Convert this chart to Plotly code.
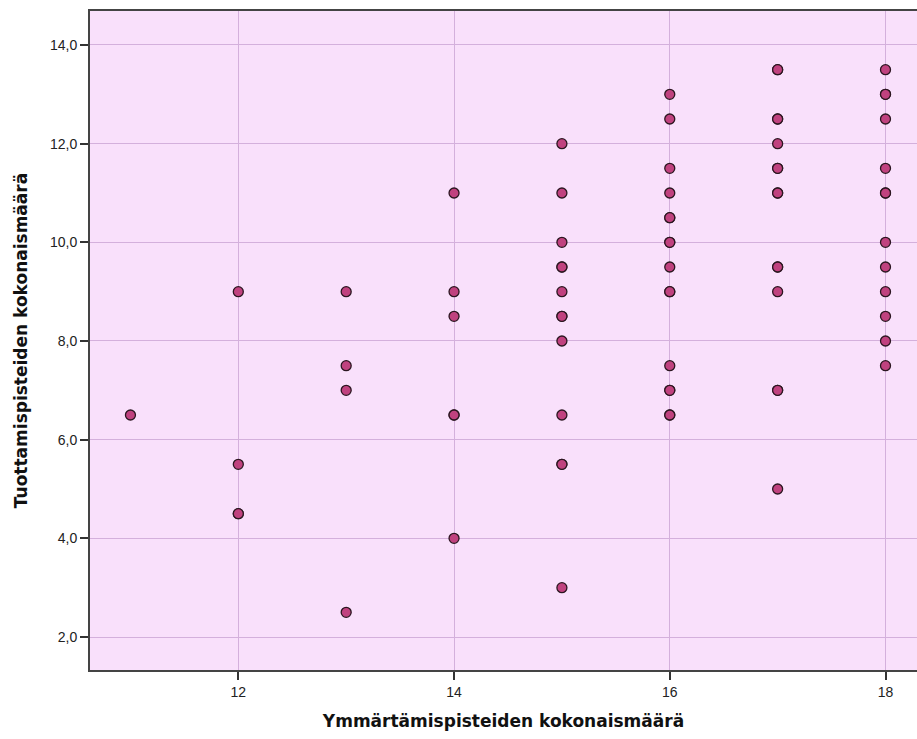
import plotly.graph_objects as go

# Total comprehension score (x) vs total production score (y); repeated pairs listed twice
x_vals = [11,
          12, 12, 12, 12,
          13, 13, 13, 13,
          14, 14, 14, 14, 14, 14,
          15, 15, 15, 15, 15, 15, 15, 15, 15, 15, 15, 15, 15,
          16, 16, 16, 16, 16, 16, 16, 16, 16, 16, 16, 16, 16, 16, 16, 16,
          17, 17, 17, 17, 17, 17, 17, 17, 17, 17, 17, 17, 17, 17, 17,
          18, 18, 18, 18, 18, 18, 18, 18, 18, 18, 18, 18, 18]
y_vals = [6.5,
          9.0, 5.5, 4.5, 4.5,
          9.0, 7.5, 7.0, 2.5,
          11.0, 9.0, 8.5, 6.5, 6.5, 4.0,
          12.0, 11.0, 10.0, 9.5, 9.5, 9.0, 8.5, 8.5, 8.0, 6.5, 5.5, 5.5, 3.0,
          13.0, 12.5, 11.5, 11.0, 10.5, 10.5, 10.0, 10.0, 9.5, 9.0, 9.0, 7.5, 7.0, 7.0, 6.5, 6.5,
          13.5, 13.5, 12.5, 12.5, 12.0, 11.5, 11.5, 11.0, 11.0, 9.5, 9.5, 9.0, 7.0, 7.0, 5.0,
          13.5, 13.0, 13.0, 12.5, 11.5, 11.0, 11.0, 10.0, 9.5, 9.0, 8.5, 8.0, 7.5]

x_ticks = [12, 14, 16, 18]
y_ticks = [2, 4, 6, 8, 10, 12, 14]
y_tick_text = ["2,0", "4,0", "6,0", "8,0", "10,0", "12,0", "14,0"]

x_title = "Ymmärtämispisteiden kokonaismäärä"
y_title = "Tuottamispisteiden kokonaismäärä"

fig = go.Figure(go.Scatter(
    x=x_vals, y=y_vals, mode="markers",
    marker=dict(size=10, color="#c0427f",
                line=dict(color="#2b1620", width=1.3)),
    hoverinfo="x+y",
))

axis_font = dict(family="Liberation Sans, Arial, sans-serif", size=14, color="#222222")
title_font = dict(family="DejaVu Sans, Verdana, sans-serif", size=17, color="#111111")

fig.update_layout(
    width=917, height=739,
    margin=dict(l=90, r=0, t=11, b=69),
    paper_bgcolor="white",
    plot_bgcolor="#f9e0fb",
    showlegend=False,
    xaxis=dict(
        range=[10.625, 18.292],
        tickvals=x_ticks, ticktext=[str(v) for v in x_ticks],
        showgrid=True, gridcolor="#d4b0dc", gridwidth=1.3,
        zeroline=False,
        showline=True, linecolor="#444444", linewidth=2, mirror=True,
        ticks="outside", ticklen=8, tickcolor="#333333", tickwidth=1.5,
        tickfont=axis_font,
        title=dict(text="<b>" + x_title + "</b>", font=title_font, standoff=16),
    ),
    yaxis=dict(
        range=[1.331, 14.689],
        tickvals=y_ticks, ticktext=y_tick_text,
        showgrid=True, gridcolor="#d4b0dc", gridwidth=1.3,
        zeroline=False,
        showline=True, linecolor="#444444", linewidth=2, mirror=False,
        ticks="outside", ticklen=8, tickcolor="#333333", tickwidth=1.5,
        tickfont=axis_font,
        title=dict(text="<b>" + y_title + "</b>", font=title_font, standoff=18),
    ),
)

fig.write_html("out.html")
